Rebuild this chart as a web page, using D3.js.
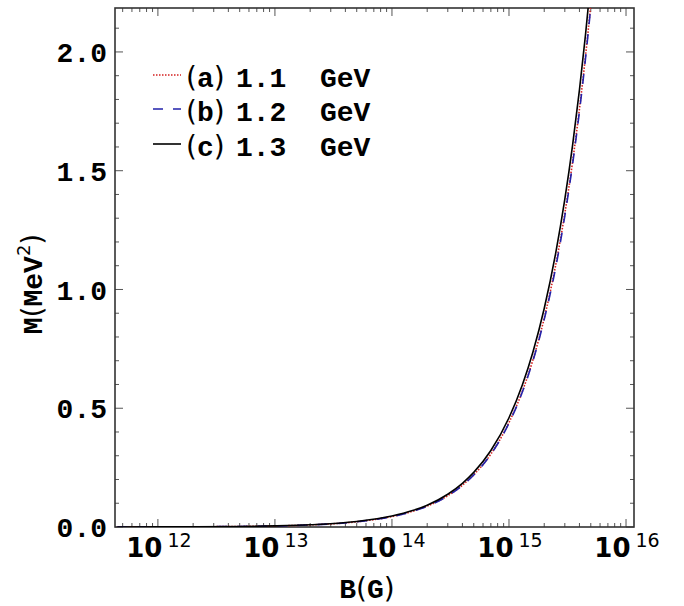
<!DOCTYPE html>
<html>
<head>
<meta charset="utf-8">
<script src="https://cdn.jsdelivr.net/npm/d3@7"></script>
<style>
  body { margin: 0; background: #fff; }
  svg { display: block; }
</style>
</head>
<body>
<div id="chart"></div>
<script>
// Magnetic field values (G)
const bValues = [4.5e11, 1e12, 2e12, 5e12, 1e13, 2e13, 5e13, 1e14, 1.5e14, 2e14, 3e14, 4e14, 5e14, 7e14,
                 1e15, 1.3e15, 1.6e15, 2e15, 2.5e15, 3e15, 3.5e15, 4e15, 4.5e15, 5e15, 5.5e15];

// M (MeV^2) for each quark mass
const mA = [0.0002, 0.00044, 0.00088, 0.0022, 0.0044, 0.0088, 0.022, 0.044, 0.066, 0.088, 0.132, 0.176, 0.22, 0.307,
            0.44, 0.571, 0.703, 0.879, 1.10, 1.32, 1.54, 1.76, 1.98, 2.20, 2.42];
const mB = [0.0002, 0.00044, 0.00087, 0.0022, 0.0044, 0.0087, 0.0219, 0.0437, 0.0656, 0.0874, 0.131, 0.175, 0.219, 0.306,
            0.437, 0.568, 0.699, 0.874, 1.09, 1.31, 1.53, 1.75, 1.97, 2.19, 2.40];
const mC = [0.0002, 0.00046, 0.00092, 0.0023, 0.0046, 0.0092, 0.023, 0.046, 0.069, 0.092, 0.138, 0.184, 0.23, 0.322,
            0.46, 0.598, 0.736, 0.92, 1.15, 1.38, 1.61, 1.84, 2.07, 2.30, 2.53];

const seriesNames = ["a", "b", "c"];
const seriesLabels = ["1.1  GeV", "1.2  GeV", "1.3  GeV"];
const xTickExps = [12, 13, 14, 15, 16];
const yTicks = [0, 0.5, 1.0, 1.5, 2.0];

const width = 684, height = 606;
const margin = { left: 115, right: 50, top: 8, bottom: 79 };

const svg = d3.select('#chart').append('svg')
    .attr('width', width)
    .attr('height', height);

const x = d3.scaleLog()
    .domain([4.3e11, 1.17e16])
    .range([margin.left, width - margin.right]);

const y = d3.scaleLinear()
    .domain([0, 2.185])
    .range([height - margin.bottom, margin.top]);

const x0 = x.range()[0], x1 = x.range()[1];
const y0 = y.range()[0], y1 = y.range()[1];

svg.append('clipPath').attr('id', 'plotClip')
    .append('rect')
    .attr('x', x0).attr('y', y1)
    .attr('width', x1 - x0).attr('height', y0 - y1);

// ticks: minor log ticks on x, 0.1 steps on y, on all four sides
const xMinor = [];
for (let e = 11; e <= 16; e++) {
    for (let k = 1; k <= 9; k++) {
        const v = k * Math.pow(10, e);
        if (v >= x.domain()[0] && v <= x.domain()[1]) xMinor.push({ v: v, major: k === 1 });
    }
}
const yMinor = d3.range(0, 22).map(i => ({ v: i / 10, major: i % 5 === 0 }));

const tickG = svg.append('g').attr('stroke', '#555').attr('stroke-width', 1);
xMinor.forEach(t => {
    const len = t.major ? 8 : 4;
    const px = x(t.v);
    tickG.append('line').attr('x1', px).attr('x2', px).attr('y1', y0).attr('y2', y0 - len);
    tickG.append('line').attr('x1', px).attr('x2', px).attr('y1', y1).attr('y2', y1 + len);
});
yMinor.forEach(t => {
    const len = t.major ? 8 : 4;
    const py = y(t.v);
    tickG.append('line').attr('x1', x0).attr('x2', x0 + len).attr('y1', py).attr('y2', py);
    tickG.append('line').attr('x1', x1).attr('x2', x1 - len).attr('y1', py).attr('y2', py);
});

// frame
svg.append('rect')
    .attr('x', x0).attr('y', y1)
    .attr('width', x1 - x0).attr('height', y0 - y1)
    .attr('fill', 'none')
    .attr('stroke', '#333')
    .attr('stroke-width', 1.6);

// curves
const lineGen = (vals) => d3.line()
    .x((d, i) => x(bValues[i]))
    .y(d => y(d))
    .curve(d3.curveMonotoneX)(vals);

const styles = [
    { data: mA, color: '#d42020', dash: '1.5,1.5', w: 1.6 },
    { data: mB, color: '#2222aa', dash: '10,10', w: 1.6 },
    { data: mC, color: '#000', dash: null, w: 1.6 }
];

const plotG = svg.append('g').attr('clip-path', 'url(#plotClip)');
styles.forEach(s => {
    plotG.append('path')
        .attr('d', lineGen(s.data))
        .attr('fill', 'none')
        .attr('stroke', s.color)
        .attr('stroke-width', s.w)
        .attr('stroke-dasharray', s.dash);
});

// y tick labels
svg.append('g').selectAll('text')
    .data(yTicks)
    .enter().append('text')
    .attr('x', x0 - 8)
    .attr('y', d => y(d))
    .attr('dy', '0.36em')
    .attr('text-anchor', 'end')
    .style('font-family', '"Liberation Mono", monospace')
    .style('font-weight', 'bold')
    .style('font-size', '28px')
    .text(d => d.toFixed(1));

// x tick labels, 10^n
const xLab = svg.append('g').selectAll('text')
    .data(xTickExps)
    .enter().append('text')
    .attr('x', d => x(Math.pow(10, d)) + 1)
    .attr('y', y0 + 30)
    .attr('text-anchor', 'middle')
    .style('font-family', '"DejaVu Sans", sans-serif');
xLab.append('tspan')
    .style('font-weight', 'bold')
    .style('font-size', '26px')
    .text('10');
xLab.append('tspan')
    .attr('dx', 5)
    .attr('dy', -10)
    .style('font-size', '19px')
    .text(d => d);

// axis titles
const bTitle = svg.append('text')
    .attr('x', 367)
    .attr('y', 598)
    .attr('text-anchor', 'middle')
    .style('font-size', '28px');
bTitle.append('tspan').style('font-family', '"Liberation Mono", monospace').style('font-weight', 'bold').text('B');
bTitle.append('tspan').style('font-family', '"DejaVu Sans", sans-serif').text('(');
bTitle.append('tspan').style('font-family', '"Liberation Mono", monospace').style('font-weight', 'bold').text('G');
bTitle.append('tspan').style('font-family', '"DejaVu Sans", sans-serif').text(')');

const mTitle = svg.append('text')
    .attr('transform', 'translate(42,284) rotate(-90)')
    .attr('text-anchor', 'middle')
    .style('font-size', '28px');
mTitle.append('tspan').style('font-family', '"Liberation Mono", monospace').style('font-weight', 'bold').text('M');
mTitle.append('tspan').style('font-family', '"DejaVu Sans", sans-serif').text('(');
mTitle.append('tspan').style('font-family', '"Liberation Mono", monospace').style('font-weight', 'bold').text('MeV');
mTitle.append('tspan').attr('dy', -12).style('font-family', '"DejaVu Sans", sans-serif').style('font-size', '18px').text('2');
mTitle.append('tspan').attr('dy', 12).style('font-family', '"DejaVu Sans", sans-serif').text(')');

// legend
const legendY = [75, 109, 144];
styles.forEach((s, i) => {
    const ly = legendY[i];
    svg.append('line')
        .attr('x1', 153).attr('x2', 181)
        .attr('y1', ly).attr('y2', ly)
        .attr('stroke', s.color)
        .attr('stroke-width', s.w)
        .attr('stroke-dasharray', s.dash);
    const t = svg.append('text')
        .attr('x', 186)
        .attr('y', ly + 12)
        .style('font-size', '28px');
    t.append('tspan').style('font-family', '"DejaVu Sans", sans-serif').text('(');
    t.append('tspan').style('font-family', '"Liberation Mono", monospace').style('font-weight', 'bold').text(seriesNames[i]);
    t.append('tspan').style('font-family', '"DejaVu Sans", sans-serif').text(')');
    svg.append('text')
        .attr('x', 236)
        .attr('y', ly + 12)
        .style('font-family', '"Liberation Mono", monospace')
        .style('font-weight', 'bold')
        .style('font-size', '28px')
        .style('white-space', 'pre')
        .text(seriesLabels[i]);
});
</script>
</body>
</html>
